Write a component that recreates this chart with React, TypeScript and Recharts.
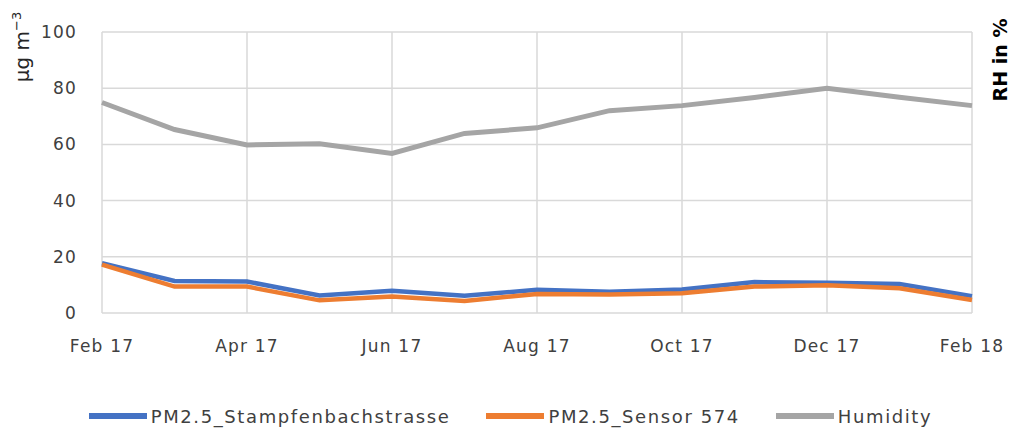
import { LineChart, Line, XAxis, YAxis, CartesianGrid, Legend } from 'recharts'

const months = [
  'Feb 17', 'Mar 17', 'Apr 17', 'May 17', 'Jun 17', 'Jul 17', 'Aug 17',
  'Sep 17', 'Oct 17', 'Nov 17', 'Dec 17', 'Jan 18', 'Feb 18',
]
const stampfenbach = [17.7, 11.4, 11.2, 6.2, 7.9, 6.1, 8.3, 7.6, 8.4, 11.0, 10.8, 10.3, 6.0]
const sensor574 = [17.2, 9.4, 9.4, 4.5, 5.9, 4.3, 6.8, 6.6, 7.0, 9.4, 9.9, 8.8, 4.6]
const humidity = [74.9, 65.3, 59.8, 60.2, 56.8, 63.9, 65.9, 72.0, 73.8, 76.7, 80.0, 76.8, 73.8]

const xTicks = ['Feb 17', 'Apr 17', 'Jun 17', 'Aug 17', 'Oct 17', 'Dec 17', 'Feb 18']
const yTicks = [0, 20, 40, 60, 80, 100]

const SERIES = [
  { key: 'stampfenbach', name: 'PM2.5_Stampfenbachstrasse', color: '#4472C4', axis: 'pm' },
  { key: 'sensor', name: 'PM2.5_Sensor 574', color: '#ED7D31', axis: 'pm' },
  { key: 'humidity', name: 'Humidity', color: '#A5A5A5', axis: 'rh' },
]

const data = months.map((m, i) => ({
  month: m,
  stampfenbach: stampfenbach[i],
  sensor: sensor574[i],
  humidity: humidity[i],
}))

const FONT = '"DejaVu Sans", sans-serif'
const tickStyle = { fontSize: 17, fill: '#404040', fontFamily: FONT, letterSpacing: 1.2 }

function LegendRow() {
  return (
    <div style={{ display: 'flex', justifyContent: 'center', alignItems: 'center', height: 40, fontFamily: FONT }}>
      {SERIES.map((s, i) => (
        <div key={s.key} style={{ display: 'flex', alignItems: 'center', marginRight: i < SERIES.length - 1 ? 36 : 0 }}>
          <div style={{ width: 58, height: 6, background: s.color, marginRight: 4 }} />
          <span style={{ fontSize: 18, color: '#404040', letterSpacing: 1.6 }}>{s.name}</span>
        </div>
      ))}
    </div>
  )
}

export default function App() {
  return (
    <div style={{ position: 'absolute', left: 0, top: 0, width: 1021, height: 436, background: '#fff' }}>
      <LineChart width={1021} height={436} data={data} margin={{ top: 32, right: 0, left: 0, bottom: 0 }}>
        <CartesianGrid yAxisId="pm" stroke="#D9D9D9" strokeWidth={1.5} />
        <XAxis
          dataKey="month"
          ticks={xTicks}
          interval={0}
          axisLine={false}
          tickLine={false}
          tickMargin={21}
          height={83}
          tick={tickStyle}
        />
        <YAxis
          yAxisId="pm"
          domain={[0, 100]}
          ticks={yTicks}
          axisLine={false}
          tickLine={false}
          tickMargin={19}
          width={102}
          tick={tickStyle}
          label={{
            content: () => (
              <text
                x={29}
                y={47}
                transform="rotate(-90, 29, 47)"
                textAnchor="middle"
                fontSize={20}
                fontFamily={FONT}
                fill="#262626"
              >
                µg m<tspan dy={-8} fontSize={13}>−3</tspan>
              </text>
            ),
          }}
        />
        <YAxis
          yAxisId="rh"
          orientation="right"
          domain={[0, 100]}
          tick={false}
          axisLine={false}
          tickLine={false}
          width={49}
          label={{
            content: () => (
              <text
                x={1007}
                y={60}
                transform="rotate(-90, 1007, 60)"
                textAnchor="middle"
                fontSize={19}
                fontWeight="bold"
                fontFamily={FONT}
                fill="#000"
              >
                RH in %
              </text>
            ),
          }}
        />
        <Legend verticalAlign="bottom" height={40} content={() => <LegendRow />} />
        {SERIES.map((s) => (
          <Line
            key={s.key}
            yAxisId={s.axis}
            type="linear"
            dataKey={s.key}
            name={s.name}
            stroke={s.color}
            strokeWidth={s.key === 'humidity' ? 5 : 4.5}
            dot={false}
            isAnimationActive={false}
          />
        ))}
      </LineChart>
    </div>
  )
}
